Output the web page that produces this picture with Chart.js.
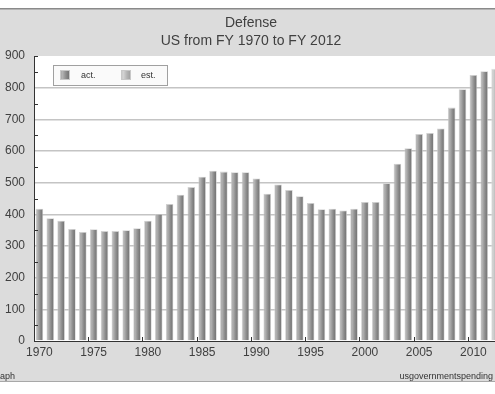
<!DOCTYPE html>
<html>
<head>
<meta charset="utf-8">
<script src="https://cdn.jsdelivr.net/npm/chart.js"></script>
<style>
  html, body { margin: 0; padding: 0; overflow: hidden; background: #fff; }
  canvas { display: block; }
</style>
</head>
<body>
<canvas id="defenseChart" width="502" height="394"></canvas>
<script>
// fiscal years on the x axis
const years = [
  "1970", "1971", "1972", "1973", "1974", "1975", "1976", "1977", "1978", "1979",
  "1980", "1981", "1982", "1983", "1984", "1985", "1986", "1987", "1988", "1989",
  "1990", "1991", "1992", "1993", "1994", "1995", "1996", "1997", "1998", "1999",
  "2000", "2001", "2002", "2003", "2004", "2005", "2006", "2007", "2008", "2009",
  "2010", "2011", "2012"
];

const actual = [
  418, 388, 380, 354, 344, 353, 347, 347, 350, 356,
  380, 401, 433, 462, 486, 519, 538, 535, 533, 533,
  513, 465, 494, 477, 457, 436, 416, 418, 412, 418,
  439, 439, 498, 560, 609, 654, 657, 671, 737, 795,
  840, 852
];

// estimate for the last year
const estimate = [{ x: "2012", y: 860 }];

const yTicks = [0, 100, 200, 300, 400, 500, 600, 700, 800, 900];
const titleLines = ["Defense", "US from FY 1970 to FY 2012"];

const ctx = document.getElementById("defenseChart").getContext("2d");

function barFill(c, stops) {
  const chart = c.chart;
  const area = chart.chartArea;
  if (!area || !chart.scales.x) return stops[1][1];
  const idx = c.parsed ? c.parsed.x : c.dataIndex;
  const x = chart.scales.x.getPixelForValue(idx);
  const w = (area.width / years.length) * 0.7;
  const g = chart.ctx.createLinearGradient(x - w / 2, 0, x + w / 2, 0);
  stops.forEach(s => g.addColorStop(s[0], s[1]));
  return g;
}

const actStops = [[0, "#a4a4a4"], [0.25, "#b2b2b2"], [0.6, "#8c8c8c"], [1, "#6c6c6c"]];
const estStops = [[0, "#c6c6c6"], [0.25, "#d2d2d2"], [0.6, "#b4b4b4"], [1, "#9c9c9c"]];

// grey frame, white plot, title, legend box, footer
const framePlugin = {
  id: "frame",
  beforeDraw(chart) {
    const c = chart.ctx;
    const a = chart.chartArea;
    c.save();
    c.fillStyle = "#fff";
    c.fillRect(0, 0, chart.width, chart.height);
    c.fillStyle = "#dcdcdc";
    c.fillRect(0, 9, chart.width, 373);
    c.fillStyle = "#8a8a8a";
    c.fillRect(0, 8, chart.width, 1.5);
    c.fillStyle = "#a8a8a8";
    c.fillRect(0, 381, chart.width, 1);
    c.fillStyle = "#fff";
    c.fillRect(a.left, a.top, a.right - a.left, a.bottom - a.top);

    c.fillStyle = "#404040";
    c.font = "14px 'Liberation Sans', Arial, sans-serif";
    c.textAlign = "center";
    c.textBaseline = "middle";
    c.fillText(titleLines[0], 251, 23);
    c.fillText(titleLines[1], 251, 41);

    c.font = "9px 'Liberation Sans', Arial, sans-serif";
    c.fillStyle = "#333";
    c.textAlign = "left";
    c.fillText("aph", 0, 377);
    c.textAlign = "right";
    c.fillText("usgovernmentspending", 493, 377);
    c.restore();
  },
  afterDraw(chart) {
    const c = chart.ctx;
    const a = chart.chartArea;
    const xs = chart.scales.x;
    const ys = chart.scales.y;
    const cat = a.width / years.length;
    c.save();
    c.strokeStyle = "#333";
    c.lineWidth = 1;
    c.beginPath();
    for (let v = 50; v <= 900; v += 50) {
      if (v % 100 === 0 && v !== 900) continue;
      const y = Math.round(ys.getPixelForValue(v)) + 0.5;
      c.moveTo(a.left, y);
      c.lineTo(a.left + 4, y);
    }
    years.forEach((yr, i) => {
      if (i === 0 || Number(yr) % 5 !== 0) return;
      const x = Math.round(xs.getPixelForValue(i) - cat / 2) + 0.5;
      c.moveTo(x, a.bottom);
      c.lineTo(x, a.bottom - 4);
    });
    c.stroke();

    // legend box
    c.fillStyle = "#fafafa";
    c.strokeStyle = "#a0a0a0";
    c.fillRect(53, 65, 114, 20);
    c.strokeRect(53.5, 65.5, 114, 20);
    const items = chart.data.datasets;
    const pos = [[60, 81], [121, 141]];
    c.font = "9px 'Liberation Sans', Arial, sans-serif";
    c.textAlign = "left";
    c.textBaseline = "middle";
    items.forEach((ds, i) => {
      const stops = i === 0 ? actStops : estStops;
      const g = c.createLinearGradient(pos[i][0], 0, pos[i][0] + 10, 0);
      stops.forEach(s => g.addColorStop(s[0], s[1]));
      c.fillStyle = g;
      c.fillRect(pos[i][0], 70, 10, 10);
      c.strokeStyle = "#c8c8c8";
      c.strokeRect(pos[i][0] + 0.5, 70.5, 9, 9);
      c.fillStyle = "#333";
      c.fillText(ds.label, pos[i][1], 75.5);
    });
    c.restore();
  }
};

new Chart(ctx, {
  type: "bar",
  data: {
    labels: years,
    datasets: [
      {
        label: "act.",
        data: actual,
        backgroundColor: c => barFill(c, actStops),
        borderColor: "rgba(205,205,205,0.9)",
        borderWidth: 0.8,
      },
      {
        label: "est.",
        data: estimate,
        backgroundColor: c => barFill(c, estStops),
        borderColor: "rgba(220,220,220,0.9)",
        borderWidth: 0.8,
      },
    ],
  },
  options: {
    responsive: false,
    animation: false,
    devicePixelRatio: 1,
    layout: { padding: { top: 56, left: 0, right: 1.5, bottom: 0 } },
    datasets: { bar: { grouped: false, barPercentage: 0.7, categoryPercentage: 1 } },
    scales: {
      x: {
        afterFit: s => { s.height = 53; },
        grid: { display: false, drawTicks: false },
        border: { display: true, color: "#333", width: 1 },
        ticks: {
          autoSkip: false,
          maxRotation: 0,
          padding: 4,
          color: "#404040",
          font: { family: "'Liberation Sans', Arial, sans-serif", size: 12 },
          callback: function (val) {
            const lbl = this.getLabelForValue(val);
            return Number(lbl) % 5 === 0 ? lbl : "";
          },
        },
      },
      y: {
        min: 0,
        max: 900,
        afterFit: s => { s.width = 34; },
        afterBuildTicks: s => { s.ticks = yTicks.map(v => ({ value: v })); },
        grid: {
          drawTicks: false,
          lineWidth: 1.5,
          color: c => (c.tick && (c.tick.value === 0 || c.tick.value === 900)) ? "rgba(0,0,0,0)" : "#c4c4c4",
        },
        border: { display: true, color: "#333", width: 1 },
        ticks: {
          padding: 9,
          color: "#404040",
          font: { family: "'Liberation Sans', Arial, sans-serif", size: 12 },
        },
      },
    },
    plugins: {
      legend: { display: false },
      title: { display: false },
      tooltip: { enabled: false },
    },
  },
  plugins: [framePlugin],
});
</script>
</body>
</html>
